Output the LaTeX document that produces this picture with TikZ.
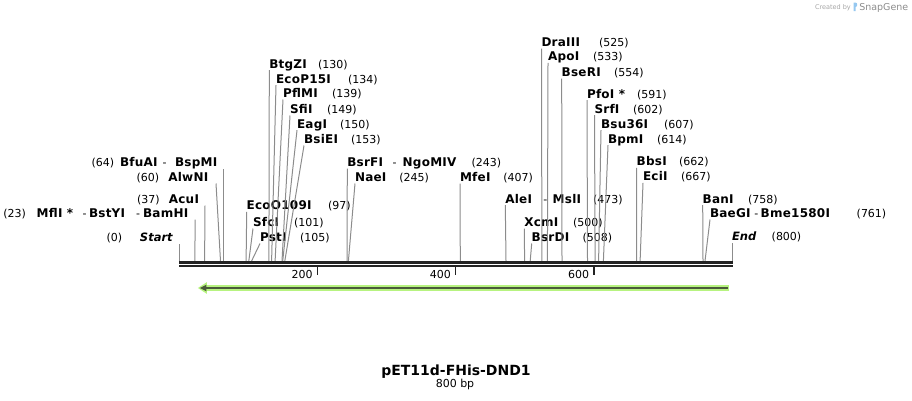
\documentclass[tikz,border=0pt]{standalone}
\usepackage{fontspec}
\setmainfont{DejaVu Sans}
\newfontfamily\enzfont[LetterSpace=2]{DejaVu Sans}
\usetikzlibrary{arrows.meta}
\definecolor{featlight}{RGB}{183,243,128}
\definecolor{featdark}{RGB}{74,90,58}
\definecolor{bbcolor}{RGB}{34,34,34}
\definecolor{cutgray}{RGB}{140,140,140}
\definecolor{logoblue}{RGB}{150,200,240}

\begin{document}
\begin{tikzpicture}[x=1pt, y=-1pt,
                    every node/.style={inner sep=0pt, outer sep=0pt},
                    enz/.style={font=\enzfont\bfseries\fontsize{12}{12}\selectfont, anchor=base west},
                    num/.style={font=\fontsize{11}{11}\selectfont, anchor=base west},
                    term/.style={font=\bfseries\itshape\fontsize{11.5}{11.5}\selectfont, anchor=base west},
                    cut/.style={draw=cutgray, line width=1pt},
                    tick/.style={draw=bbcolor, line width=1.5pt},
                    halo/.style={draw=featlight, line width=6pt, -{Triangle[length=9pt,width=11pt]}},
                    feat/.style={draw=featdark, line width=2.4pt, -{Triangle[length=6.5pt,width=6pt]}}]
                    \useasboundingbox (0,0) rectangle (912,400);
                    % left labels
                    \node[num] (p0) at (106.7,241.5) {(0)};
                    \node[term, anchor=base east] (Start) at (172.7,241.5) {Start};
                    \node[num] (p23) at (3.3,217.5) {(23)};
                    \node[enz] (MflI) at (36.7,217.5) {MflI *};
                    \node[num] (d23a) at (82.6,217.5) {-};
                    \node[enz] (BstYI) at (89,217.5) {BstYI};
                    \node[num] (d23b) at (136,217.5) {-};
                    \node[enz, anchor=base east] (BamHI) at (188.3,217.5) {BamHI};
                    \node[num] (p37) at (137,203.5) {(37)};
                    \node[enz, anchor=base east] (AcuI) at (199,203.5) {AcuI};
                    \node[num] (p60) at (136.7,181.5) {(60)};
                    \node[enz, anchor=base east] (AlwNI) at (208.3,181.5) {AlwNI};
                    \node[num] (p64) at (91.7,166.5) {(64)};
                    \node[enz] (BfuAI) at (120,166.5) {BfuAI};
                    \node[num] (d64) at (162.7,166.5) {-};
                    \node[enz, anchor=base east] (BspMI) at (217.3,166.5) {BspMI};
                    % first cluster
                    \node[enz] (BtgZI) at (269.3,68.2) {BtgZI};
                    \node[num] (p130) at (318,68.2) {(130)};
                    \node[enz] (EcoP15I) at (276,83.2) {EcoP15I};
                    \node[num] (p134) at (348,83.2) {(134)};
                    \node[enz] (PflMI) at (283,97.5) {PflMI};
                    \node[num] (p139) at (332,97.5) {(139)};
                    \node[enz] (SfiI) at (290,113.5) {SfiI};
                    \node[num] (p149) at (327,113.5) {(149)};
                    \node[enz] (EagI) at (297,128.2) {EagI};
                    \node[num] (p150) at (340,128.2) {(150)};
                    \node[enz] (BsiEI) at (304,143.5) {BsiEI};
                    \node[num] (p153) at (351,143.5) {(153)};
                    \node[enz] (EcoO109I) at (246.7,209.9) {EcoO109I};
                    \node[num] (p97) at (328,209.9) {(97)};
                    \node[enz] (SfcI) at (253,226.5) {SfcI};
                    \node[num] (p101) at (294,226.5) {(101)};
                    \node[enz] (PstI) at (260,241.5) {PstI};
                    \node[num] (p105) at (300,241.5) {(105)};
                    \node[enz] (BsrFI) at (347.3,166.5) {BsrFI};
                    \node[num] (d243) at (392.6,166.5) {-};
                    \node[enz] (NgoMIV) at (402.7,166.5) {NgoMIV};
                    \node[num] (p243) at (471.7,166.5) {(243)};
                    \node[enz] (NaeI) at (355,181.5) {NaeI};
                    \node[num] (p245) at (399.3,181.5) {(245)};
                    \node[enz] (MfeI) at (460,181.5) {MfeI};
                    \node[num] (p407) at (503.3,181.5) {(407)};
                    % second cluster
                    \node[enz] (DraIII) at (541.5,46.5) {DraIII};
                    \node[num] (p525) at (599,46.5) {(525)};
                    \node[enz] (ApoI) at (548,60.9) {ApoI};
                    \node[num] (p533) at (593,60.9) {(533)};
                    \node[enz] (BseRI) at (561.7,76.5) {BseRI};
                    \node[num] (p554) at (614,76.5) {(554)};
                    \node[enz] (PfoI) at (587,98.2) {PfoI *};
                    \node[num] (p591) at (637,98.2) {(591)};
                    \node[enz] (SrfI) at (594.5,113.2) {SrfI};
                    \node[num] (p602) at (633,113.2) {(602)};
                    \node[enz] (Bsu36I) at (601,128.2) {Bsu36I};
                    \node[num] (p607) at (664,128.2) {(607)};
                    \node[enz] (BpmI) at (608,143.2) {BpmI};
                    \node[num] (p614) at (657,143.2) {(614)};
                    \node[enz] (BbsI) at (636.7,165.9) {BbsI};
                    \node[num] (p662) at (679,165.9) {(662)};
                    \node[enz] (EciI) at (643,180.9) {EciI};
                    \node[num] (p667) at (681,180.9) {(667)};
                    \node[enz] (AleI) at (505.3,203.2) {AleI};
                    \node[num] (d473) at (543.4,203.2) {-};
                    \node[enz] (MslI) at (552.7,203.2) {MslI};
                    \node[num] (p473) at (593,203.2) {(473)};
                    \node[enz] (XcmI) at (524.3,226.5) {XcmI};
                    \node[num] (p500) at (573,226.5) {(500)};
                    \node[enz] (BsrDI) at (531.7,241.5) {BsrDI};
                    \node[num] (p508) at (582.7,241.5) {(508)};
                    \node[enz] (BanI) at (702.7,203.2) {BanI};
                    \node[num] (p758) at (748,203.2) {(758)};
                    \node[enz] (BaeGI) at (710,217.5) {BaeGI};
                    \node[num] (d761) at (754.4,217.5) {-};
                    \node[enz] (Bme1580I) at (760.7,217.5) {Bme1580I};
                    \node[num] (p761) at (856.7,217.5) {(761)};
                    \node[term] (End) at (732,240.9) {End};
                    \node[num] (p800) at (771.7,240.9) {(800)};
                    % cut sites on the backbone
                    \coordinate (s0) at (179,261);
                    \coordinate (s23) at (194.9,261);
                    \coordinate (s37) at (204.6,261);
                    \coordinate (s60) at (220.5,261);
                    \coordinate (s64) at (223.2,261);
                    \coordinate (s97) at (246.1,261);
                    \coordinate (s101) at (248.8,261);
                    \coordinate (s105) at (251.6,261);
                    \coordinate (s130) at (268.9,261);
                    \coordinate (s134) at (271.6,261);
                    \coordinate (s139) at (275.1,261);
                    \coordinate (s149) at (282.0,261);
                    \coordinate (s150) at (282.7,261);
                    \coordinate (s153) at (284.8,261);
                    \coordinate (s243) at (347.0,261);
                    \coordinate (s245) at (348.4,261);
                    \coordinate (s407) at (460.3,261);
                    \coordinate (s473) at (506.0,261);
                    \coordinate (s500) at (524.6,261);
                    \coordinate (s508) at (530.2,261);
                    \coordinate (s525) at (541.9,261);
                    \coordinate (s533) at (547.4,261);
                    \coordinate (s554) at (562.0,261);
                    \coordinate (s591) at (587.5,261);
                    \coordinate (s602) at (595.1,261);
                    \coordinate (s607) at (598.6,261);
                    \coordinate (s614) at (603.4,261);
                    \coordinate (s662) at (636.6,261);
                    \coordinate (s667) at (640.1,261);
                    \coordinate (s758) at (703.0,261);
                    \coordinate (s761) at (705.0,261);
                    \coordinate (s800) at (732.0,261);
                    % tops of the left-hand lines
                    \coordinate (t0) at (179,243.5);
                    \coordinate (t23) at (195.1,219.5);
                    \coordinate (t37) at (205,205.5);
                    \coordinate (t60) at (216,183.5);
                    \coordinate (t64) at (223.2,168.5);
                    \draw[cut] (s0) -- (t0);
                    \draw[cut] (s23) -- (t23);
                    \draw[cut] (s37) -- (t37);
                    \draw[cut] (s60) -- (t60);
                    \draw[cut] (s64) -- (t64);
                    \draw[cut] (s97) -- ([yshift=-2pt]EcoO109I.base west);
                    \draw[cut] (s101) -- ([yshift=-2pt]SfcI.base west);
                    \draw[cut] (s105) -- ([yshift=-2pt]PstI.base west);
                    \draw[cut] (s130) -- ([yshift=-2pt]BtgZI.base west);
                    \draw[cut] (s134) -- ([yshift=-2pt]EcoP15I.base west);
                    \draw[cut] (s139) -- ([yshift=-2pt]PflMI.base west);
                    \draw[cut] (s149) -- ([yshift=-2pt]SfiI.base west);
                    \draw[cut] (s150) -- ([yshift=-2pt]EagI.base west);
                    \draw[cut] (s153) -- ([yshift=-2pt]BsiEI.base west);
                    \draw[cut] (s243) -- ([yshift=-2pt]BsrFI.base west);
                    \draw[cut] (s245) -- ([yshift=-2pt]NaeI.base west);
                    \draw[cut] (s407) -- ([yshift=-2pt]MfeI.base west);
                    \draw[cut] (s473) -- ([yshift=-2pt]AleI.base west);
                    \draw[cut] (s500) -- ([yshift=-2pt]XcmI.base west);
                    \draw[cut] (s508) -- ([yshift=-2pt]BsrDI.base west);
                    \draw[cut] (s525) -- ([yshift=-2pt]DraIII.base west);
                    \draw[cut] (s533) -- ([yshift=-2pt]ApoI.base west);
                    \draw[cut] (s554) -- ([yshift=-2pt]BseRI.base west);
                    \draw[cut] (s591) -- ([yshift=-2pt]PfoI.base west);
                    \draw[cut] (s602) -- ([yshift=-2pt]SrfI.base west);
                    \draw[cut] (s607) -- ([yshift=-2pt]Bsu36I.base west);
                    \draw[cut] (s614) -- ([yshift=-2pt]BpmI.base west);
                    \draw[cut] (s662) -- ([yshift=-2pt]BbsI.base west);
                    \draw[cut] (s667) -- ([yshift=-2pt]EciI.base west);
                    \draw[cut] (s758) -- ([yshift=-2pt]BanI.base west);
                    \draw[cut] (s761) -- ([yshift=-2pt]BaeGI.base west);
                    \draw[cut] (s800) -- ([yshift=-2pt]End.base west);
                    % backbone and ruler
                    \coordinate (bbL) at (179,264);
                    \coordinate (bbR) at (732.7,264);
                    \draw[draw=bbcolor, line width=2.8pt, double=white, double distance=1pt] (bbL) -- (bbR);
                    \coordinate (k200) at (317.3,267);
                    \coordinate (k400) at (455.5,267);
                    \coordinate (k600) at (593.8,267);
                    \draw[tick] (k200) -- ++(0,7.5);
                    \draw[tick] (k400) -- ++(0,7.5);
                    \draw[tick] (k600) -- ++(0,7.5);
                    \node[num, anchor=base east] (r200) at (312.7,278.5) {200};
                    \node[num, anchor=base east] (r400) at (450.9,278.5) {400};
                    \node[num, anchor=base east] (r600) at (589.2,278.5) {600};
                    % feature arrow
                    \coordinate (fR) at (729.3,288);
                    \coordinate (fL) at (197.8,288);
                    \coordinate (gR) at (727.7,288);
                    \coordinate (gL) at (199.8,288);
                    \draw[halo] (fR) -- (fL);
                    \draw[feat] (gR) -- (gL);
                    % title
                    \node[font=\bfseries\fontsize{14}{14}\selectfont, anchor=base] (title) at (456,375) {pET11d-FHis-DND1};
                    \node[font=\fontsize{11}{11}\selectfont, anchor=base] (size) at (455,387.3) {800 bp};
                    % watermark
                    \node[font=\fontsize{6.5}{6.5}\selectfont, text=black!35, anchor=base west] (made) at (815,9.3) {Created by};
                    \fill[logoblue] (853.5,2.5) -- (855.5,2.5) .. controls (857.8,2.5) and (857.8,6.8) .. (855.5,7) -- (855.5,11) -- (853.5,11) -- cycle;
                    \node[font=\fontsize{9.5}{9.5}\selectfont, text=black!45, anchor=base west] (brand) at (859.3,10) {SnapGene};
                \end{tikzpicture}
\end{document}
